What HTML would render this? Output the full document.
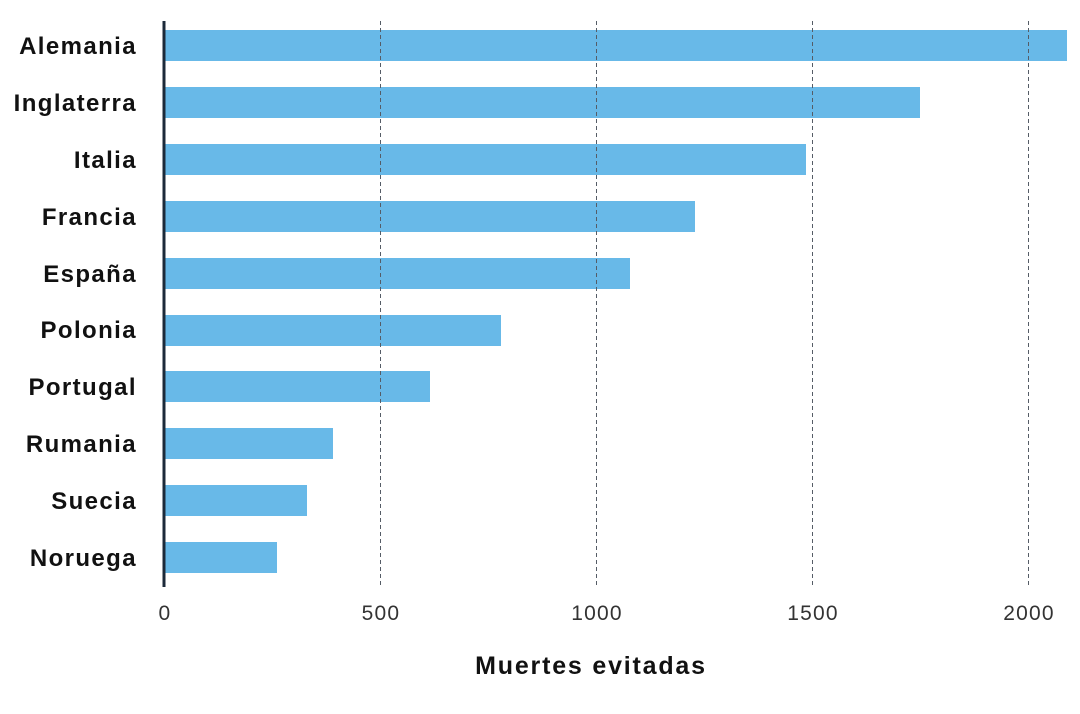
<!DOCTYPE html>
<html><head><meta charset="utf-8"><style>
html,body{margin:0;padding:0;background:#fff;}
svg text{font-family:"Liberation Sans",sans-serif;}
</style></head><body>
<svg width="1080" height="709" viewBox="0 0 1080 709" xmlns="http://www.w3.org/2000/svg">
<g fill="#68b9e8">
<rect x="164" y="30" width="903" height="31"/>
<rect x="164" y="87" width="756" height="31"/>
<rect x="164" y="144" width="642" height="31"/>
<rect x="164" y="201" width="531" height="31"/>
<rect x="164" y="258" width="466" height="31"/>
<rect x="164" y="315" width="337" height="31"/>
<rect x="164" y="371" width="266" height="31"/>
<rect x="164" y="428" width="169" height="31"/>
<rect x="164" y="485" width="143" height="31"/>
<rect x="164" y="542" width="113" height="31"/>
</g>
<g stroke="#555c66" stroke-width="1" stroke-dasharray="4,3">
<line x1="380.5" y1="21" x2="380.5" y2="586"/>
<line x1="596.5" y1="21" x2="596.5" y2="586"/>
<line x1="812.5" y1="21" x2="812.5" y2="586"/>
<line x1="1028.5" y1="21" x2="1028.5" y2="586"/>
</g>
<line x1="164" y1="21" x2="164" y2="587" stroke="#1c2a3a" stroke-width="3"/>
<g font-size="24" font-weight="bold" fill="#111" text-anchor="end" letter-spacing="1.4">
<text x="137" y="54">Alemania</text>
<text x="137" y="111">Inglaterra</text>
<text x="137" y="168">Italia</text>
<text x="137" y="225">Francia</text>
<text x="137" y="282">España</text>
<text x="137" y="338">Polonia</text>
<text x="137" y="395">Portugal</text>
<text x="137" y="452">Rumania</text>
<text x="137" y="509">Suecia</text>
<text x="137" y="566">Noruega</text>
</g>
<g font-size="21" fill="#333" text-anchor="middle" letter-spacing="1.2">
<text x="165" y="620">0</text>
<text x="381" y="620">500</text>
<text x="597" y="620">1000</text>
<text x="813" y="620">1500</text>
<text x="1029" y="620">2000</text>
</g>
<text x="591" y="674" font-size="25" font-weight="bold" fill="#111" text-anchor="middle" letter-spacing="1.8">Muertes evitadas</text>
</svg>
</body></html>
